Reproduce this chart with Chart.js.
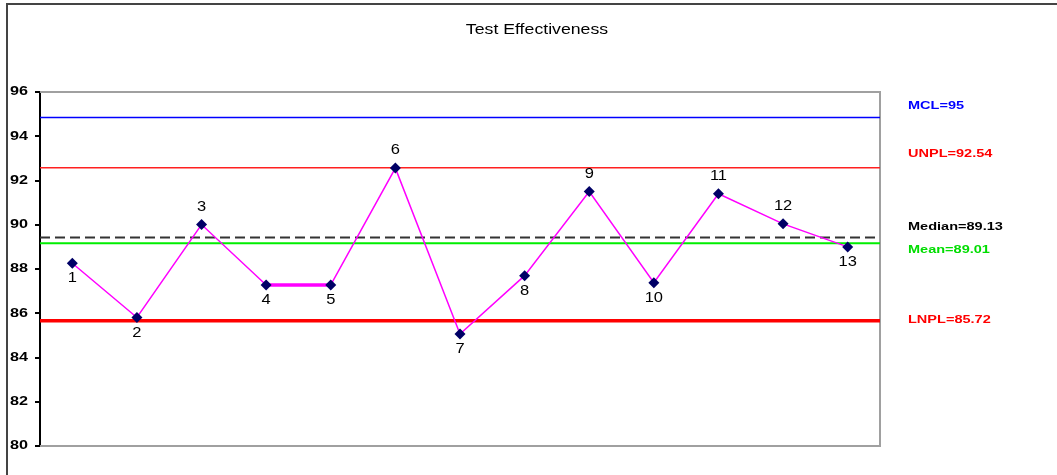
<!DOCTYPE html>
<html>
<head>
<meta charset="utf-8">
<script src="https://cdn.jsdelivr.net/npm/chart.js@4"></script>
<style>
  html, body { margin: 0; padding: 0; background: #fff; }
  #wrap { position: relative; width: 1057px; height: 475px; }
</style>
</head>
<body>
<div id="wrap"><canvas id="myChart" width="1057" height="475"></canvas></div>
<script>
// data
var categories = ['1', '2', '3', '4', '5', '6', '7', '8', '9', '10', '11', '12', '13'];
var effectiveness = [88.26, 85.81, 90.01, 87.28, 87.28, 92.56, 85.06, 87.70, 91.50, 87.38, 91.40, 90.04, 89.00];
var yTickLabels = ['80', '82', '84', '86', '88', '90', '92', '94', '96'];
var limitLabels = ['MCL=95', 'UNPL=92.54', 'Median=89.13', 'Mean=89.01', 'LNPL=85.72'];
var limitValues = [94.85, 92.58, 89.42, 89.16, 85.66];

// styles for the limit lines and their labels
var limitStyles = [
    { color: '#0000ff', width: 1.5, dash: [], textColor: '#0000ff', dy: -11 },
    { color: '#ff2020', width: 1.5, dash: [], textColor: '#ff0000', dy: -14 },
    { color: '#333333', width: 2, dash: [10, 5], textColor: '#000000', dy: -11 },
    { color: '#00ee00', width: 2, dash: [], textColor: '#00dd00', dy: 7 },
    { color: '#ff0000', width: 3.5, dash: [], textColor: '#ff0000', dy: -1 }
];
// where each point number sits: 1 = below, -1 = above
var labelSide = [1, 1, -1, 1, 1, -1, 1, 1, -1, 1, -1, -1, 1];

function stretchedText(ctx, text, x, y, sx, align) {
    ctx.save();
    ctx.translate(x, y);
    ctx.scale(sx, 1);
    ctx.textAlign = align;
    ctx.fillText(text, 0, 0);
    ctx.restore();
}

var decorations = {
    id: 'decorations',
    beforeDatasetsDraw: function (chart) {
        var ctx = chart.ctx;
        var area = chart.chartArea;
        var y = chart.scales.y;
        ctx.save();
        // plot frame (gray top, right, bottom)
        ctx.strokeStyle = '#a0a0a0';
        ctx.lineWidth = 2;
        ctx.beginPath();
        ctx.moveTo(area.left, area.top);
        ctx.lineTo(area.right, area.top);
        ctx.lineTo(area.right, area.bottom);
        ctx.lineTo(area.left, area.bottom);
        ctx.stroke();
        // limit lines
        limitValues.forEach(function (v, i) {
            var s = limitStyles[i];
            var py = y.getPixelForValue(v);
            ctx.strokeStyle = s.color;
            ctx.lineWidth = s.width;
            ctx.setLineDash(s.dash);
            ctx.beginPath();
            ctx.moveTo(area.left, py);
            ctx.lineTo(area.right, py);
            ctx.stroke();
        });
        ctx.setLineDash([]);
        ctx.restore();
    },
    afterDraw: function (chart) {
        var ctx = chart.ctx;
        var y = chart.scales.y;
        ctx.save();
        // outer frame
        ctx.strokeStyle = '#444444';
        ctx.lineWidth = 2;
        ctx.beginPath();
        ctx.moveTo(7, 475);
        ctx.lineTo(7, 4);
        ctx.lineTo(1057, 4);
        ctx.stroke();
        // title
        ctx.fillStyle = '#000';
        ctx.textBaseline = 'middle';
        ctx.font = '15px Arial';
        stretchedText(ctx, 'Test Effectiveness', 537, 30, 1.18, 'center');
        // limit labels on the right
        ctx.font = 'bold 11px Arial';
        limitValues.forEach(function (v, i) {
            ctx.fillStyle = limitStyles[i].textColor;
            stretchedText(ctx, limitLabels[i], 908, y.getPixelForValue(v) + limitStyles[i].dy, 1.32, 'left');
        });
        // y tick labels, drawn wide like the original
        ctx.fillStyle = '#000';
        ctx.font = 'bold 12px Arial';
        yTickLabels.forEach(function (t) {
            stretchedText(ctx, t, 28, y.getPixelForValue(Number(t)), 1.35, 'right');
        });
        // point numbers
        var meta = chart.getDatasetMeta(0);
        ctx.font = '15px Arial';
        meta.data.forEach(function (pt, i) {
            var off = labelSide[i] > 0 ? 15 : -18;
            stretchedText(ctx, categories[i], pt.x, pt.y + off, 1.1, 'center');
        });
        ctx.restore();
    }
};

var ctx = document.getElementById('myChart').getContext('2d');
var myChart = new Chart(ctx, {
    type: 'line',
    data: {
        labels: categories,
        datasets: [{
            label: 'Test Effectiveness',
            data: effectiveness,
            borderColor: '#ff00ff',
            borderWidth: 1.5,
            pointStyle: 'rectRot',
            pointRadius: 5.5,
            pointBackgroundColor: '#000066',
            pointBorderColor: '#000066',
            pointBorderWidth: 0,
            tension: 0,
            segment: {
                borderWidth: function (c) { return c.p0DataIndex === 3 ? 3.5 : 1.5; }
            }
        }]
    },
    options: {
        responsive: false,
        animation: false,
        events: [],
        layout: {
            padding: { left: 0, top: 92, right: 177, bottom: 29 }
        },
        plugins: {
            legend: { display: false },
            title: { display: false },
            tooltip: { enabled: false }
        },
        scales: {
            x: {
                type: 'category',
                offset: true,
                display: false
            },
            y: {
                min: 80,
                max: 96,
                afterFit: function (s) { s.width = 40; },
                afterBuildTicks: function (s) {
                    s.ticks = yTickLabels.map(function (t) { return { value: Number(t) }; });
                },
                grid: {
                    drawOnChartArea: false,
                    drawTicks: true,
                    tickLength: 5,
                    color: '#000',
                    lineWidth: 2
                },
                border: { display: true, color: '#000', width: 2 },
                ticks: {
                    display: false
                }
            }
        }
    },
    plugins: [decorations]
});
</script>
</body>
</html>
